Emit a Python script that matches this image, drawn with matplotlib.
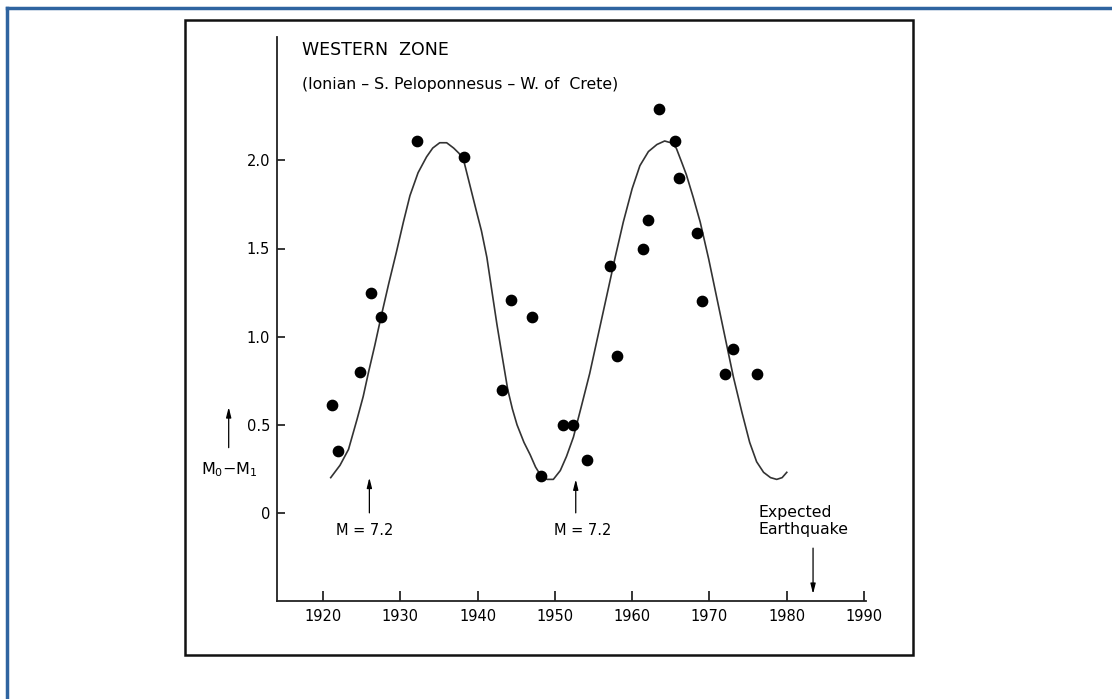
import matplotlib.pyplot as plt
from matplotlib.patches import Rectangle
from matplotlib.lines import Line2D

# puntos observados (año, M0-M1)
anios = [1921.2, 1922.0, 1924.8, 1926.2, 1927.5, 1932.2, 1938.2, 1943.2, 1944.3,
         1947.1, 1948.2, 1951.0, 1952.3, 1954.1, 1957.1, 1958.1, 1961.4, 1962.0,
         1963.5, 1965.5, 1966.1, 1968.4, 1969.0, 1972.0, 1973.0, 1976.2]
valores = [0.61, 0.35, 0.80, 1.25, 1.11, 2.11, 2.02, 0.70, 1.21,
           1.11, 0.21, 0.50, 0.50, 0.30, 1.40, 0.89, 1.50, 1.66,
           2.29, 2.11, 1.90, 1.59, 1.20, 0.79, 0.93, 0.79]

# curva ajustada
curva_x = [1921.0, 1922.2, 1923.3, 1924.4, 1925.2, 1925.9, 1926.7, 1927.5, 1928.5,
           1929.5, 1930.4, 1931.25, 1932.3, 1933.4, 1934.2, 1935.1, 1936.0, 1936.9,
           1937.6, 1938.2, 1939.0, 1939.8, 1940.5, 1941.2, 1941.95, 1942.5, 1943.1,
           1943.9, 1944.5, 1945.1, 1946.0, 1946.8, 1947.5, 1948.2, 1949.0, 1949.8,
           1950.7, 1951.5, 1952.4, 1953.4, 1954.5, 1955.6, 1956.7, 1957.8, 1958.85,
           1960.0, 1961.0, 1962.1, 1963.2, 1964.2, 1965.0, 1965.7, 1966.4, 1967.0,
           1967.9, 1968.8, 1969.9, 1970.9, 1972.0, 1973.1, 1974.2, 1975.2, 1976.1,
           1977.0, 1977.9, 1978.7, 1979.4, 1980.0]
curva_y = [0.20, 0.27, 0.36, 0.53, 0.66, 0.80, 0.95, 1.11, 1.30,
           1.48, 1.65, 1.80, 1.93, 2.02, 2.07, 2.10, 2.10, 2.07,
           2.04, 2.00, 1.86, 1.72, 1.60, 1.45, 1.23, 1.07, 0.91,
           0.70, 0.59, 0.50, 0.40, 0.33, 0.26, 0.21, 0.19, 0.19,
           0.24, 0.32, 0.43, 0.60, 0.79, 1.01, 1.23, 1.45, 1.65,
           1.84, 1.97, 2.05, 2.09, 2.11, 2.10, 2.07, 1.99, 1.92,
           1.79, 1.65, 1.44, 1.23, 1.00, 0.77, 0.57, 0.40, 0.29,
           0.23, 0.20, 0.19, 0.20, 0.23]

anios_ticks = [1920, 1930, 1940, 1950, 1960, 1970, 1980, 1990]
y_ticks = [0, 0.5, 1.0, 1.5, 2.0]
y_etiquetas = ["0", "0.5", "1.0", "1.5", "2.0"]

W, H = 1112, 699
fig = plt.figure(figsize=(W / 100, H / 100), dpi=100)

# marco azul exterior (solo arriba e izquierda visibles)
fig.add_artist(Line2D([7 / W, 7 / W], [0, 1 - 8 / H], transform=fig.transFigure,
                      color="#2f64a0", lw=2.5))
fig.add_artist(Line2D([7 / W, 1], [1 - 8 / H, 1 - 8 / H], transform=fig.transFigure,
                      color="#2f64a0", lw=2.5))
# marco negro
fig.add_artist(Rectangle((185 / W, 1 - 655 / H), 728 / W, 635 / H, transform=fig.transFigure,
                         fill=False, edgecolor="#111111", lw=1.8))

ax = fig.add_axes([277 / W, 1 - 601 / H, 589 / W, 564 / H])
ax.set_xlim(1914.05, 1990.25)
ax.set_ylim(-0.5, 2.70)
ax.patch.set_alpha(0)

ax.plot(curva_x, curva_y, color="#333333", lw=1.2)
ax.scatter(anios, valores, s=55, color="black", zorder=3)

for lado in ["top", "right"]:
    ax.spines[lado].set_visible(False)
for lado in ["left", "bottom"]:
    ax.spines[lado].set_linewidth(1.3)
    ax.spines[lado].set_color("#222222")

ax.set_xticks(anios_ticks)
ax.set_yticks(y_ticks)
ax.set_yticklabels(y_etiquetas)
ax.tick_params(axis="x", direction="in", length=7, width=1.1, pad=6, labelsize=10.5)
ax.tick_params(axis="y", direction="in", length=6, width=1.1, pad=5, labelsize=10.5)

flecha = dict(arrowstyle="-|>,head_length=0.6,head_width=0.15", lw=0.9, color="black",
              shrinkA=0, shrinkB=0)

# etiqueta del eje y con flecha
ax.annotate("", xy=(1907.8, 0.60), xytext=(1907.8, 0.37), arrowprops=flecha,
            annotation_clip=False)
ax.text(1907.9, 0.245, r"$\mathregular{M_0{-}M_1}$", ha="center", va="center",
        fontsize=11.5, clip_on=False)

# terremotos M = 7.2
ax.annotate("", xy=(1926.0, 0.20), xytext=(1926.0, 0.0), arrowprops=flecha)
ax.text(1925.4, -0.10, "M = 7.2", ha="center", va="center", fontsize=10.5)
ax.annotate("", xy=(1952.7, 0.19), xytext=(1952.7, 0.0), arrowprops=flecha)
ax.text(1953.6, -0.10, "M = 7.2", ha="center", va="center", fontsize=10.5)

# terremoto esperado
ax.text(1976.3, -0.045, "Expected\nEarthquake", ha="left", va="center", fontsize=11.3,
        linespacing=1.2)
ax.annotate("", xy=(1983.4, -0.46), xytext=(1983.4, -0.20), arrowprops=flecha)

fig.text(302 / W, 1 - 50 / H, "WESTERN  ZONE", ha="left", va="center", fontsize=12.5)
fig.text(302 / W, 1 - 85 / H, "(Ionian – S. Peloponnesus – W. of  Crete)", ha="left",
         va="center", fontsize=11.3)

fig.savefig("out.png", dpi=100)
